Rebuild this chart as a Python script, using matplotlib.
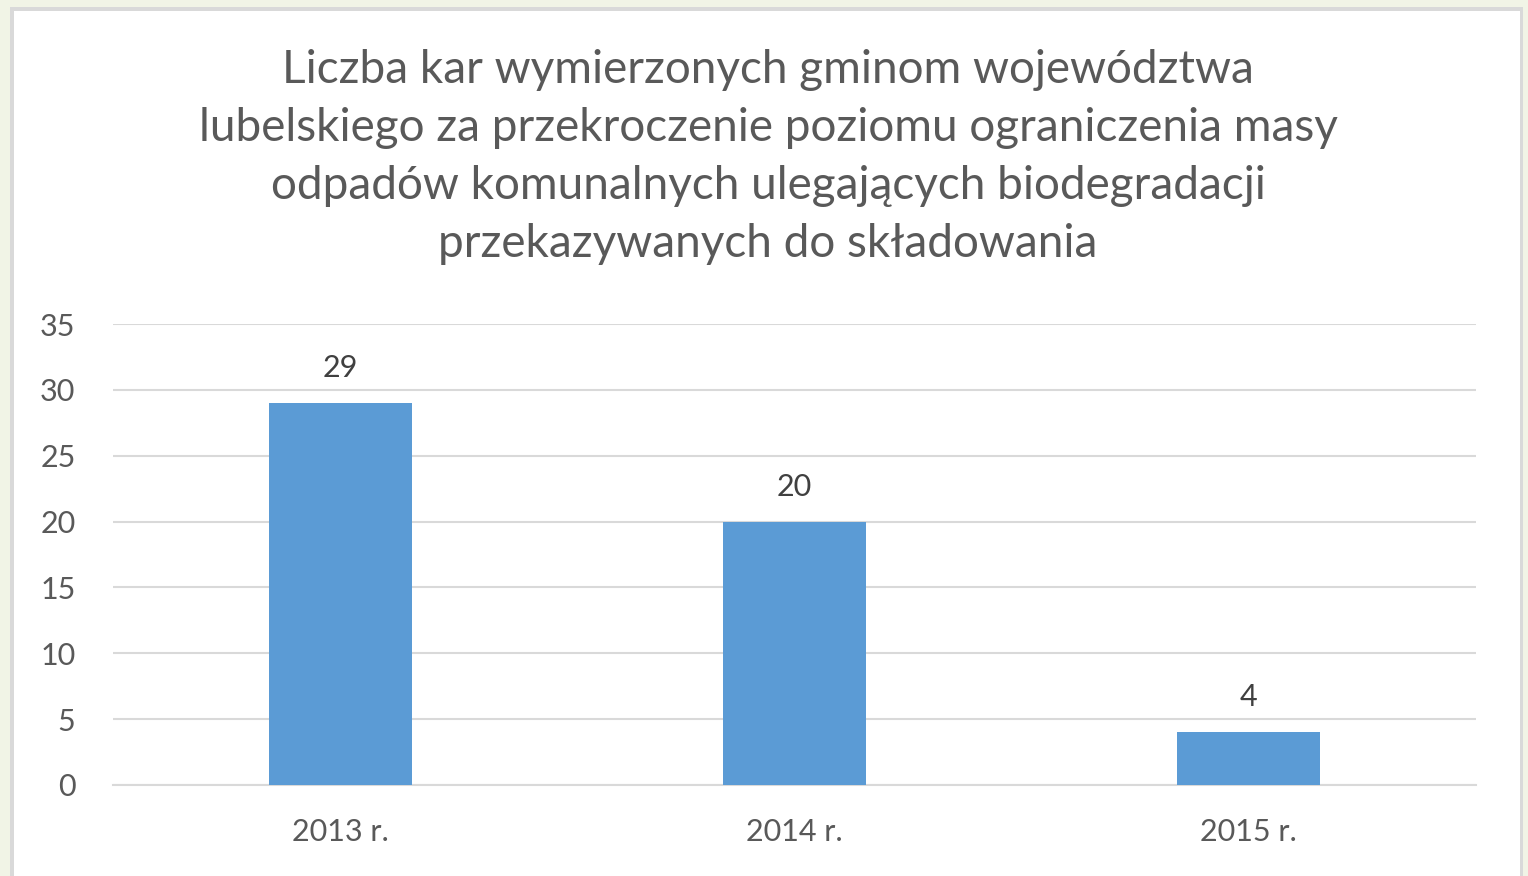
import matplotlib
matplotlib.use("Agg")
import matplotlib.pyplot as plt
from matplotlib.patches import Rectangle

categories = ["2013 r.", "2014 r.", "2015 r."]
values = [29, 20, 4]
yticks = [0, 5, 10, 15, 20, 25, 30, 35]
title = ("Liczba kar wymierzonych gminom województwa\n"
         "lubelskiego za przekroczenie poziomu ograniczenia masy\n"
         "odpadów komunalnych ulegających biodegradacji\n"
         "przekazywanych do składowania")

W, H = 1528, 876
fig = plt.figure(figsize=(W / 100, H / 100), dpi=100, facecolor="#f1f4e6")
plt.rcParams['font.family'] = ['Lato', 'DejaVu Sans']

# panel
fig.patches.append(Rectangle((10 / W, -0.05), (1523 - 10) / W, 1 - 7 / H + 0.05,
                             transform=fig.transFigure, facecolor="#d9d9d9",
                             edgecolor="none", zorder=-10))
fig.patches.append(Rectangle((14 / W, -0.05), (1520 - 14) / W, 1 - 11 / H + 0.05,
                             transform=fig.transFigure, facecolor="white",
                             edgecolor="none", zorder=-9))

x0, x1 = 113, 1476
y0, y1 = 785, 324
ax = fig.add_axes([x0 / W, 1 - y0 / H, (x1 - x0) / W, (y0 - y1) / H])
ax.set_zorder(1)
ax.set_facecolor("none")
pos = range(len(categories))
bars = ax.bar(pos, values, width=0.315, color="#5b9bd5", zorder=3)
ax.set_xlim(-0.5, len(categories) - 0.5)
ax.set_ylim(0, 35)
ax.set_yticks(yticks)
ax.set_xticks(list(pos))
ax.set_xticklabels(categories)
ax.grid(axis="y", color="#d9d9d9", linewidth=1.5, zorder=0)
for s in ["top", "right", "left"]:
    ax.spines[s].set_visible(False)
ax.spines["bottom"].set_color("#d9d9d9")
ax.spines["bottom"].set_linewidth(1.5)
ax.tick_params(axis="both", length=0, labelsize=22, colors="#595959")
ax.tick_params(axis="y", pad=27)
ax.tick_params(axis="x", pad=24)
for b, v in zip(bars, values):
    ax.annotate(str(v), (b.get_x() + b.get_width() / 2, v), xytext=(0, 15),
                textcoords="offset points", ha="center", va="bottom",
                fontsize=22, color="#404040")

fig.text(768 / W, 1 - 157 / H, title, ha="center", va="center", fontsize=33,
         color="#595959", linespacing=1.47)

fig.savefig("out.png", dpi=100, facecolor=fig.get_facecolor())
